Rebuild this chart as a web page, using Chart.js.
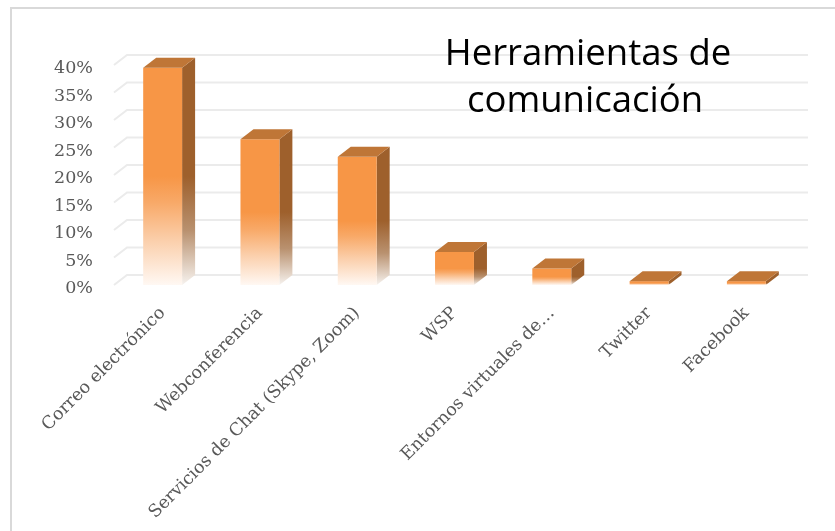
<!DOCTYPE html>
<html>
<head>
<meta charset="utf-8">
<script src="https://cdn.jsdelivr.net/npm/chart.js@4.4.0/dist/chart.umd.min.js"></script>
<style>
  html, body { margin: 0; padding: 0; background: #fff; overflow: hidden; }
  #frame { position: absolute; left: 10px; top: 7px; width: 900px; height: 600px; border: 2px solid #d9d9d9; }
  #wrap { position: absolute; left: 0; top: 0; width: 835px; height: 531px; }
</style>
</head>
<body>
<div id="frame"></div>
<div id="wrap"><canvas id="chart" width="835" height="531"></canvas></div>
<script>
// data
const categories = ['Correo electrónico', 'Webconferencia', 'Servicios de Chat (Skype, Zoom)', 'WSP', 'Entornos virtuales de…', 'Twitter', 'Facebook'];
const values = [39.5, 26.5, 23.3, 6, 3, 0.7, 0.7];
const yTicks = [0, 5, 10, 15, 20, 25, 30, 35, 40];
const titleLines = ['Herramientas de', 'comunicación'];

const DX = 13, DY = 10; // 3D depth

// back wall gridlines + 3D bars + title
const bars3d = {
  id: 'bars3d',
  beforeDatasetsDraw(chart) {
    const { ctx, chartArea: a, scales: { y } } = chart;
    ctx.save();
    ctx.strokeStyle = '#ebebeb';
    ctx.lineWidth = 2;
    yTicks.forEach(t => {
      const py = y.getPixelForValue(t);
      ctx.beginPath();
      ctx.moveTo(a.left, py);
      ctx.lineTo(a.left + DX, py - DY);
      ctx.lineTo(a.right + DX, py - DY);
      ctx.stroke();
    });
    ctx.restore();
  },
  afterDatasetsDraw(chart) {
    const ctx = chart.ctx;
    ctx.save();
    chart.getDatasetMeta(0).data.forEach(bar => {
      const l = bar.x - bar.width / 2, r = bar.x + bar.width / 2;
      const top = bar.y, base = bar.base;

      // side face
      let g = ctx.createLinearGradient(0, top, 0, base);
      g.addColorStop(0, '#9e602c');
      g.addColorStop(0.5, '#9e602c');
      g.addColorStop(0.75, '#b9916f');
      g.addColorStop(1, '#f6f2ee');
      ctx.fillStyle = g;
      ctx.beginPath();
      ctx.moveTo(r, top);
      ctx.lineTo(r + DX, top - DY);
      ctx.lineTo(r + DX, base - DY);
      ctx.lineTo(r, base);
      ctx.closePath();
      ctx.fill();

      // front face
      g = ctx.createLinearGradient(0, top, 0, base);
      g.addColorStop(0, '#f79646');
      g.addColorStop(0.5, '#f79646');
      g.addColorStop(0.62, '#f8a968');
      g.addColorStop(0.8, '#fbd0ad');
      g.addColorStop(1, '#fff8f3');
      ctx.fillStyle = g;
      ctx.fillRect(l, top, r - l, base - top);

      // top face
      ctx.fillStyle = '#bf7637';
      ctx.beginPath();
      ctx.moveTo(l, top);
      ctx.lineTo(l + DX, top - DY);
      ctx.lineTo(r + DX, top - DY);
      ctx.lineTo(r, top);
      ctx.closePath();
      ctx.fill();
    });
    ctx.restore();
  },
  afterDraw(chart) {
    const ctx = chart.ctx;
    ctx.save();
    ctx.font = '36.5px "Open Sans"';
    ctx.fillStyle = '#000';
    ctx.textAlign = 'center';
    ctx.textBaseline = 'alphabetic';
    ctx.fillText(titleLines[0], 588, 65);
    ctx.fillText(titleLines[1], 585, 112);
    ctx.restore();
  }
};

const tickFont = { family: '"DejaVu Serif"', size: 17.5 };

new Chart(document.getElementById('chart').getContext('2d'), {
  type: 'bar',
  data: {
    labels: categories,
    datasets: [{
      data: values,
      backgroundColor: 'rgba(0,0,0,0)',
      barPercentage: 0.4,
      categoryPercentage: 1
    }]
  },
  options: {
    responsive: false,
    animation: false,
    layout: { padding: { top: 65, right: 40, left: 0, bottom: 0 } },
    plugins: { legend: { display: false }, tooltip: { enabled: false } },
    scales: {
      x: {
        grid: { display: false, drawTicks: false },
        border: { display: false },
        ticks: { color: '#595959', font: tickFont, minRotation: 45, maxRotation: 45, padding: 18, autoSkip: false },
        afterFit(scale) {
          scale.height = 246;
          scale.paddingLeft = 0;
          scale.paddingRight = 0;
        }
      },
      y: {
        min: 0, max: 40,
        grid: { display: false, drawTicks: false },
        border: { display: false },
        ticks: { stepSize: 5, color: '#595959', font: tickFont, padding: 21, labelOffset: 3.5, callback: v => v + '%' },
        afterFit(scale) { scale.width = 114; }
      }
    }
  },
  plugins: [bars3d]
});
</script>
</body>
</html>
